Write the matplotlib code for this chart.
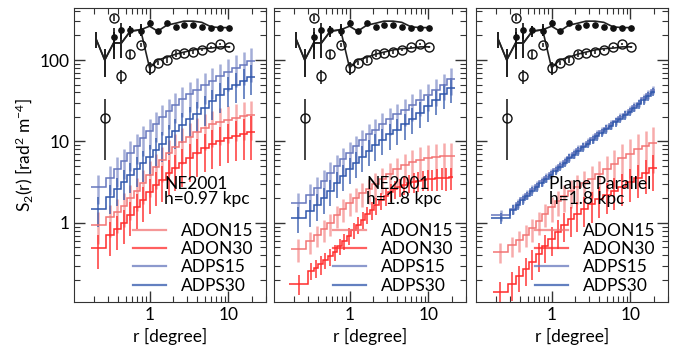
import numpy as np
import matplotlib.pyplot as plt
from matplotlib.lines import Line2D
from matplotlib.ticker import FuncFormatter

plt.rcParams['font.family'] = ['Lato', 'DejaVu Sans']
plt.rcParams['mathtext.default'] = 'regular'

# bin edges of the structure functions [degree]
edges_coarse = [0.18, 0.28, 0.355, 0.43, 0.52, 0.63, 0.76, 0.91, 1.1, 1.32, 1.6, 1.92, 2.35,
                2.9, 3.6, 4.5, 5.6, 7.0, 8.9, 11.2, 14.0, 17.4, 21.5]
edges_fine = [0.17, 0.30, 0.35, 0.40, 0.46, 0.53, 0.61, 0.70, 0.80, 0.92, 1.05, 1.20, 1.38,
              1.58, 1.80, 2.05, 2.35, 2.70, 3.10, 3.55, 4.05, 4.65, 5.30, 6.10, 7.00, 8.00,
              9.20, 10.5, 12.0, 13.8, 15.8, 18.0, 20.5]

# observed structure functions and model (same in every panel)
model_r = [0.21, 0.27, 0.35, 0.44, 0.57, 0.77, 1.0, 1.27, 1.65, 2.15, 2.73, 3.56, 4.6, 6.05, 7.9, 10.3]
model_filled = [180, 100, 162, 162, 226, 235, 260, 226, 267, 283, 300, 300, 290, 255, 250, 250]
model_filled_err = [40, 38, 60, 55, 35, 40, 0, 0, 0, 0, 0, 0, 0, 0, 0, 0]
model_open = [180, 100, 162, 162, 226, 235, 80, 100, 108, 118, 125, 133, 138, 140, 145, 145]
model_open_err = [40, 38, 60, 55, 35, 40, 15, 0, 0, 0, 0, 0, 0, 0, 0, 0]

obs_filled_r = [0.35, 0.44, 0.57, 0.77, 1.0, 1.27, 1.65, 2.15, 2.73, 3.56, 4.6, 6.05, 7.9, 10.3]
obs_filled = [191, 233, 233, 230, 283, 226, 283, 254, 267, 267, 254, 248, 248, 248]
obs_filled_err = [58, 50, 30, 35, 25, 6, 6, 6, 6, 6, 6, 6, 6, 6]

obs_open_r = [0.27, 0.35, 0.44, 0.57, 0.77, 1.0, 1.27, 1.65, 2.15, 2.73, 3.56, 4.6, 6.05, 7.9, 10.3]
obs_open = [19.5, 330, 63, 118, 153, 80, 92, 100, 118, 121, 125, 133, 144, 157, 144]
obs_open_err = [13.5, 25, 12, 15, 8, 8, 6, 8, 10, 6, 6, 5, 5, 5, 5]

# panel 1: NE2001, h=0.97 kpc
p1_adon15 = [0.95, 1.18, 1.35, 1.6, 2.0, 2.5, 3.1, 3.9, 4.8, 5.9, 7.2, 8.5, 9.9, 11.5, 13.2,
             14.8, 16.2, 17.4, 18.5, 19.5, 20.4, 21]
p1_adon15_err = [0.4, 0.5, 0.6, 0.7, 0.9, 1.1, 1.4, 1.8, 2.2, 2.7, 3.3, 3.9, 4.6, 5.3, 6.1,
                 6.9, 7.6, 8.3, 8.9, 9.5, 10, 10.5]
p1_adon30 = [0.49, 0.71, 0.85, 1.0, 1.25, 1.55, 1.9, 2.4, 2.9, 3.4, 4.1, 4.7, 5.4, 6.2, 7.2,
             8.2, 9.2, 10.1, 11, 11.8, 12.5, 13.2]
p1_adon30_err = [0.22, 0.32, 0.38, 0.45, 0.56, 0.7, 0.86, 1.1, 1.3, 1.6, 1.9, 2.2, 2.6, 3.0,
                 3.5, 4.0, 4.6, 5.1, 5.6, 6.1, 6.6, 7.2]
p1_adps15 = [2.8, 3.6, 4.6, 5.8, 7.2, 8.9, 11, 13.5, 16.5, 20, 24, 28, 33, 38, 43, 49, 56, 63,
             72, 80, 88, 96]
p1_adps15_err = [1.1, 1.4, 1.8, 2.3, 2.9, 3.6, 4.4, 5.4, 6.6, 8, 9.6, 11, 13, 15, 17, 20, 23,
                 26, 30, 34, 38, 43]
p1_adps30 = [1.5, 2.1, 2.6, 3.2, 3.9, 4.6, 5.4, 6.4, 7.8, 9.4, 11.5, 13.5, 16, 19, 22, 26, 31,
             37, 44, 50, 56, 62]
p1_adps30_err = [0.6, 0.8, 1.0, 1.3, 1.6, 1.8, 2.2, 2.6, 3.1, 3.8, 4.6, 5.4, 6.4, 7.6, 8.8,
                 10.4, 12.4, 14.8, 17.6, 20, 22.4, 25]

# panel 2: NE2001, h=1.8 kpc
p2_adon15 = [0.48, 0.6, 0.71, 0.84, 1.0, 1.25, 1.5, 1.75, 2.0, 2.3, 2.6, 3.0, 3.5, 4.0, 4.6,
             5.1, 5.6, 6.0, 6.3, 6.5, 6.6, 6.6]
p2_adon15_err = [0.15, 0.18, 0.2, 0.25, 0.3, 0.38, 0.46, 0.55, 0.65, 0.75, 0.9, 1.05, 1.25,
                 1.5, 1.75, 2.0, 2.3, 2.5, 2.7, 2.8, 2.9, 3.0]
p2_adon30 = [0.18, 0.26, 0.28, 0.31, 0.35, 0.39, 0.44, 0.52, 0.6, 0.7, 0.82, 0.95, 1.1, 1.28,
             1.45, 1.65, 1.9, 2.15, 2.4, 2.6, 2.8, 2.95, 3.1, 3.2, 3.3, 3.4, 3.45, 3.5, 3.55,
             3.6, 3.6, 3.65]
p2_adon30_err = [0.05, 0.06, 0.07, 0.08, 0.08, 0.09, 0.1, 0.12, 0.14, 0.16, 0.19, 0.22, 0.26,
                 0.3, 0.35, 0.4, 0.46, 0.52, 0.58, 0.64, 0.7, 0.75, 0.8, 0.85, 0.9, 0.95, 1.0,
                 1.02, 1.05, 1.08, 1.1, 1.1]
p2_adps15 = [1.75, 2.2, 2.7, 3.3, 4.1, 5.0, 6.1, 7.3, 8.7, 10.3, 12.2, 14, 16.3, 18.8, 21.5,
             24.5, 28, 32, 37, 43, 50, 58]
p2_adps15_err = [0.6, 0.8, 1.0, 1.2, 1.5, 1.8, 2.2, 2.6, 3.1, 3.7, 4.4, 5.0, 5.9, 6.8, 7.7,
                 8.8, 10, 11.5, 13.3, 15.5, 18, 21]
p2_adps30 = [1.15, 1.4, 1.65, 2.0, 2.5, 3.1, 3.8, 4.6, 5.5, 6.5, 7.7, 9.0, 10.5, 12.2, 14,
             16.2, 19, 22.5, 27, 32, 38, 45]
p2_adps30_err = [0.4, 0.5, 0.6, 0.7, 0.9, 1.1, 1.3, 1.6, 1.9, 2.3, 2.7, 3.2, 3.7, 4.3, 4.9,
                 5.7, 6.7, 7.9, 9.5, 11, 13, 15]

# panel 3: plane parallel, h=1.8 kpc
p3_adon15 = [0.44, 0.53, 0.62, 0.72, 0.86, 1.05, 1.3, 1.55, 1.85, 2.15, 2.45, 2.8, 3.1, 3.5,
             4.0, 4.6, 5.3, 6.2, 7.1, 8.0, 8.8, 9.6]
p3_adon15_err = [0.12, 0.15, 0.18, 0.22, 0.27, 0.33, 0.42, 0.52, 0.65, 0.78, 0.92, 1.1, 1.3,
                 1.5, 1.8, 2.1, 2.5, 3.0, 3.5, 4.2, 4.8, 5.5]
p3_adon30 = [0.14, 0.18, 0.22, 0.27, 0.33, 0.41, 0.52, 0.64, 0.78, 0.95, 1.12, 1.3, 1.5, 1.7,
             1.95, 2.2, 2.5, 2.8, 3.2, 3.6, 4.1, 4.7]
p3_adon30_err = [0.05, 0.07, 0.08, 0.1, 0.13, 0.16, 0.2, 0.25, 0.3, 0.37, 0.45, 0.52, 0.6,
                 0.7, 0.8, 0.92, 1.05, 1.2, 1.4, 1.6, 1.85, 2.2]
p3_adps15 = [1.25, 1.5, 1.75, 2.0, 2.25, 2.6, 2.9, 3.25, 3.65, 4.1, 4.6, 5.2, 5.8, 6.5, 7.2,
             8.0, 8.9, 9.9, 11, 12.2, 13.5, 14.8, 16.3, 18, 20, 22, 24.5, 27, 30, 34, 38, 43]
p3_adps15_err = [0.2, 0.2, 0.22, 0.24, 0.27, 0.3, 0.35, 0.4, 0.45, 0.5, 0.55, 0.62, 0.7, 0.78,
                 0.86, 0.96, 1.07, 1.2, 1.3, 1.45, 1.6, 1.8, 2.0, 2.2, 2.4, 2.6, 2.9, 3.2,
                 3.6, 4.0, 4.5, 5.1]
p3_adps30 = [1.15, 1.45, 1.65, 1.9, 2.15, 2.45, 2.75, 3.1, 3.5, 3.9, 4.35, 4.9, 5.5, 6.2, 6.9,
             7.6, 8.5, 9.4, 10.5, 11.6, 12.8, 14.1, 15.5, 17.2, 19, 21, 23.3, 25.8, 28.6, 32,
             36, 41]
p3_adps30_err = [0.18, 0.19, 0.2, 0.23, 0.26, 0.29, 0.33, 0.37, 0.42, 0.47, 0.52, 0.59, 0.66,
                 0.74, 0.83, 0.91, 1.02, 1.13, 1.26, 1.39, 1.54, 1.7, 1.86, 2.06, 2.28, 2.52,
                 2.8, 3.1, 3.4, 3.8, 4.3, 4.9]

labels = ['ADON15', 'ADON30', 'ADPS15', 'ADPS30']
colors = ['#f27474', '#ff2b2b', '#6677bd', '#2f56ab']
bar_alpha = [0.6, 0.8, 0.6, 0.75]
bar_width = [1.8, 1.3, 1.8, 1.3]
panel_text = ['NE2001\nh=0.97 kpc', 'NE2001\nh=1.8 kpc', 'Plane Parallel\nh=1.8 kpc']
text_x = [0.47, 0.48, 0.38]

panels = [
    [(p1_adon15, p1_adon15_err, edges_coarse), (p1_adon30, p1_adon30_err, edges_coarse),
     (p1_adps15, p1_adps15_err, edges_coarse), (p1_adps30, p1_adps30_err, edges_coarse)],
    [(p2_adon15, p2_adon15_err, edges_coarse), (p2_adon30, p2_adon30_err, edges_fine),
     (p2_adps15, p2_adps15_err, edges_coarse), (p2_adps30, p2_adps30_err, edges_coarse)],
    [(p3_adon15, p3_adon15_err, edges_coarse), (p3_adon30, p3_adon30_err, edges_coarse),
     (p3_adps15, p3_adps15_err, edges_fine), (p3_adps30, p3_adps30_err, edges_fine)],
]

fig = plt.figure(figsize=(6.78, 3.58), dpi=100)
lefts = [74, 274, 476]
fmt = FuncFormatter(lambda v, p: f'{v:g}')

for i, series in enumerate(panels):
    ax = fig.add_axes([lefts[i] / 678, 1 - 302 / 358, 192 / 678, 294 / 358])
    ax.set_xscale('log')
    ax.set_yscale('log')

    for k, (vals, errs, edges) in enumerate(series):
        edges = np.array(edges)
        centers = np.sqrt(edges[:-1] * edges[1:])
        ax.errorbar(centers, vals, yerr=errs, fmt='none', ecolor=colors[k],
                    elinewidth=bar_width[k], alpha=bar_alpha[k], zorder=2)
        ax.stairs(vals, edges, baseline=None, color=colors[k], lw=1.1, zorder=3)

    # observations and model
    ax.errorbar(model_r, model_filled, yerr=model_filled_err, color='#222222', lw=1.2,
                elinewidth=1.3, zorder=5)
    ax.errorbar(model_r, model_open, yerr=model_open_err, color='#222222', lw=1.2,
                elinewidth=1.3, zorder=5)
    ax.errorbar(obs_filled_r, obs_filled, yerr=obs_filled_err, fmt='o', ms=3.8,
                color='#111111', elinewidth=1.2, zorder=6)
    ax.errorbar(obs_open_r, obs_open, yerr=obs_open_err, fmt='o', ms=6.5, mfc='none',
                mec='#111111', mew=1.0, ecolor='#222222', elinewidth=1.2, zorder=6)

    ax.set_xlim(0.11, 30)
    ax.set_ylim(0.107, 435)
    ax.tick_params(which='both', direction='in', top=True, right=True, labelsize=12.5,
                   color='#333333')
    ax.tick_params(which='major', length=8, width=1)
    ax.tick_params(which='minor', length=4, width=0.8)
    ax.xaxis.set_major_formatter(fmt)
    ax.yaxis.set_major_formatter(fmt)
    for s in ax.spines.values():
        s.set_color('#333333')
    if i > 0:
        ax.set_yticklabels([])
    else:
        ax.set_ylabel(r'S$_2$(r) [rad$^2$ m$^{-4}$]', fontsize=12.5, labelpad=3)
    ax.set_xlabel('r [degree]', fontsize=12.5, labelpad=4)

    ax.text(text_x[i], 0.43, panel_text[i], transform=ax.transAxes, fontsize=12.5,
            va='top', ha='left', linespacing=0.95, zorder=7)

    handles = [Line2D([], [], color=colors[k], lw=1.6, alpha=0.75) for k in range(4)]
    ax.legend(handles, labels, loc='lower left', bbox_to_anchor=(0.27, 0.005), frameon=False,
              fontsize=12.5, handlelength=1.9, handletextpad=0.85, labelspacing=0.13,
              borderaxespad=0.0)

fig.savefig('out.png', dpi=100)
